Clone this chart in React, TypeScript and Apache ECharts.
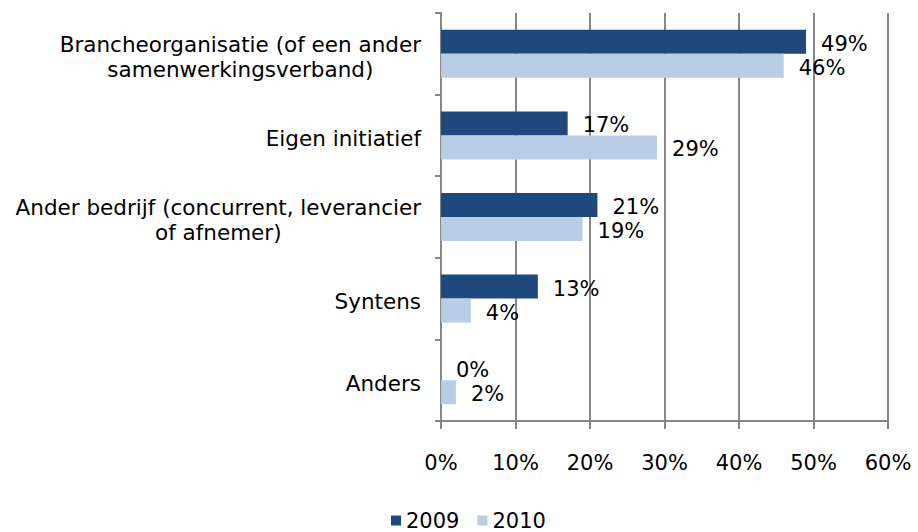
import React, { useEffect, useRef } from "react";
import * as echarts from "echarts";

const categories = [
  "Brancheorganisatie (of een ander\nsamenwerkingsverband)",
  "Eigen initiatief",
  "Ander bedrijf (concurrent, leverancier\nof afnemer)",
  "Syntens",
  "Anders",
];
const values2009 = [49, 17, 21, 13, 0];
const values2010 = [46, 29, 19, 4, 2];
const seriesNames = ["2009", "2010"];
const xTicks = [0, 10, 20, 30, 40, 50, 60];

const FONT = "DejaVu Sans";
const FS = 21;
const FS_CAT = 21.5;

export default function App() {
  const ref = useRef<HTMLDivElement>(null);
  useEffect(() => {
    if (!ref.current) return;
    const chart = echarts.init(ref.current, undefined, { renderer: "svg" });
    const label = {
      show: true,
      position: "right" as const,
      distance: 15,
      offset: [0, 2],
      formatter: "{c}%",
      color: "#000",
      fontSize: FS,
      fontFamily: FONT,
    };
    chart.setOption({
      animation: false,
      backgroundColor: "#fff",
      textStyle: { fontFamily: FONT },
      grid: { left: 441, right: 30, top: 13, bottom: 111, containLabel: false },
      legend: {
        data: seriesNames,
        left: 391,
        top: 510,
        padding: 0,
        itemWidth: 10,
        itemHeight: 10,
        itemGap: 18,
        icon: "rect",
        textStyle: { fontSize: FS, fontFamily: FONT, color: "#000" },
      },
      xAxis: {
        type: "value",
        min: xTicks[0],
        max: xTicks[xTicks.length - 1],
        interval: 10,
        axisLine: { show: true, lineStyle: { color: "#868686", width: 2 } },
        axisTick: { show: true, length: 8, lineStyle: { color: "#868686", width: 2 } },
        splitLine: { show: true, lineStyle: { color: "#868686", width: 2 } },
        axisLabel: {
          formatter: "{value}%",
          fontSize: FS,
          fontFamily: FONT,
          color: "#000",
          margin: 31,
        },
      },
      yAxis: {
        type: "category",
        data: categories,
        inverse: true,
        axisLine: { show: true, lineStyle: { color: "#868686", width: 2 } },
        axisTick: { show: true, length: 6, alignWithLabel: false, lineStyle: { color: "#868686", width: 2 } },
        axisLabel: {
          margin: 20,
          fontSize: FS_CAT,
          fontFamily: FONT,
          color: "#000",
          lineHeight: 25,
          padding: [6, 0, 0, 0],
          formatter: (v: string) =>
            v
              .split("\n")
              .map((l) => `{c|${l}}`)
              .join("\n"),
          rich: {
            c: { align: "center", fontSize: FS_CAT, fontFamily: FONT, color: "#000", lineHeight: 25 },
          },
        },
      },
      series: [
        {
          name: seriesNames[0],
          type: "bar",
          data: values2009,
          barWidth: 24,
          barGap: "0%",
          itemStyle: { color: "#1F497D" },
          label,
        },
        {
          name: seriesNames[1],
          type: "bar",
          data: values2010,
          barWidth: 24,
          barGap: "0%",
          itemStyle: { color: "#B9CDE5" },
          label,
        },
      ],
    });
    return () => chart.dispose();
  }, []);
  return <div ref={ref} style={{ width: 918, height: 532, position: "absolute", left: 0, top: 0 }} />;
}
